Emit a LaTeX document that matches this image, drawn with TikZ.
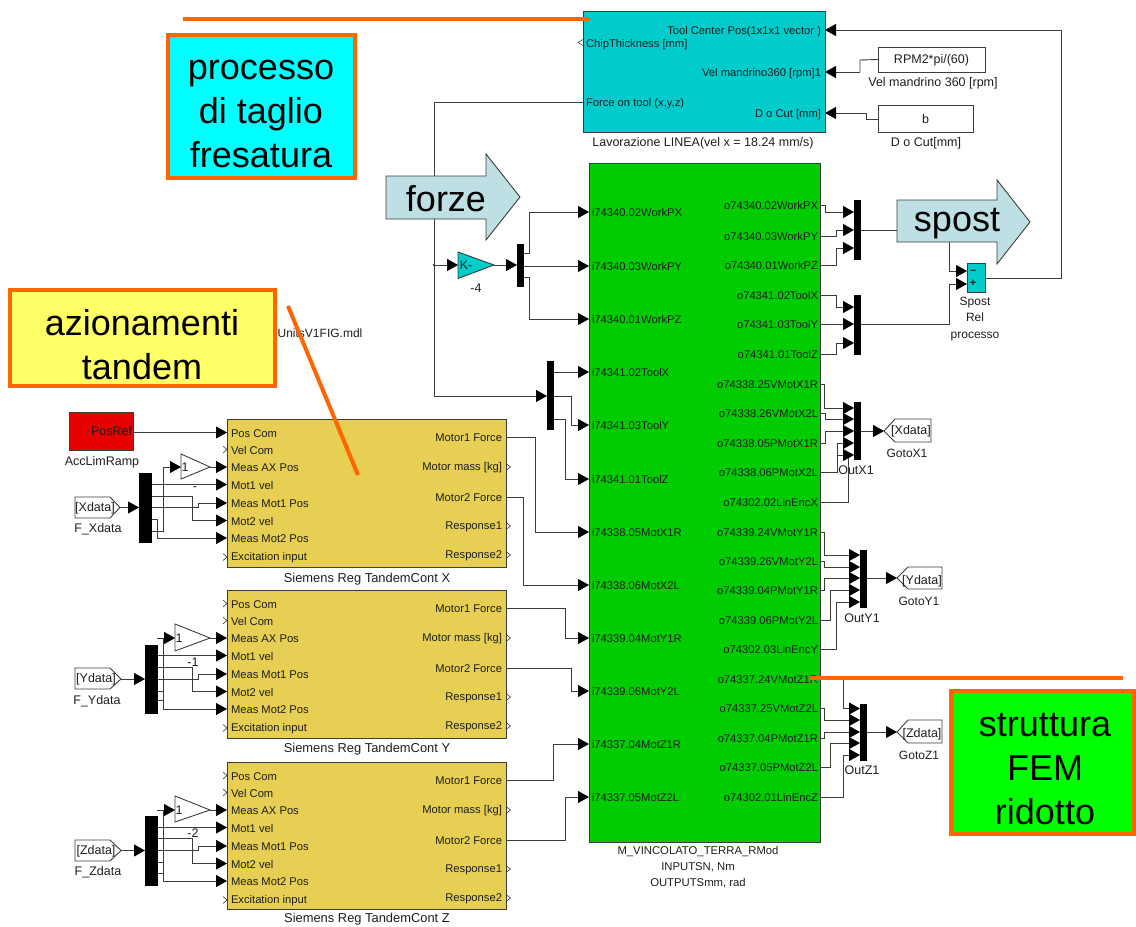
\documentclass[tikz,border=0pt]{standalone}
\usepackage{fontspec}
\setmainfont{Liberation Sans}
\usetikzlibrary{arrows.meta}
\definecolor{ink}{HTML}{1E1E1E}
\definecolor{edge}{HTML}{3C3C3C}
\definecolor{cutcol}{HTML}{00CCCC}
\definecolor{femcol}{HTML}{00CC00}
\definecolor{regcol}{HTML}{E6CF52}
\definecolor{arrowcol}{HTML}{BEDFE3}
\definecolor{orangeline}{HTML}{FF6600}
\definecolor{notecyan}{HTML}{00FFFF}
\definecolor{noteyellow}{HTML}{FFFF66}
\definecolor{notegreen}{HTML}{00FF00}
\definecolor{rampred}{HTML}{E60000}
\tikzset{
  x=1pt,y=-1pt,
  txt/.style={font=\fontsize{11.2}{13}\selectfont,text=ink,inner sep=0pt,outer sep=0pt},
  lab/.style={font=\fontsize{12.5}{15}\selectfont,text=ink,inner sep=0pt,outer sep=0pt},
  gotolab/.style={font=\fontsize{12}{15}\selectfont,text=ink,inner sep=0pt,outer sep=0pt},
  tl/.style={txt,anchor=west,yshift=-.7pt},
  tr/.style={txt,anchor=east,yshift=-.7pt},
  big/.style={font=\fontsize{36}{44}\selectfont,text=black,inner sep=0pt,align=center},
  box/.style={draw=edge,line width=.9pt,inner sep=0pt,outer sep=0pt,anchor=north west},
  bar/.style={fill=black,draw=none,inner sep=0pt,outer sep=0pt,anchor=north west,minimum width=7pt},
  wire/.style={draw=edge,line width=.9pt},
  sig/.style={wire,-{Triangle[length=11pt,width=12pt,color=black]}},
  tag/.style={draw=edge,line width=.9pt,fill=white},
  port/.style={draw=edge,line width=.6pt},
  note/.style={draw=orangeline,line width=4.5pt,anchor=north west,inner sep=0pt,outer sep=0pt},
  ray/.style={draw=orangeline,line width=4pt},
  bigarrow/.style={draw=edge,line width=.9pt,fill=arrowcol},
}
\begin{document}
\begin{tikzpicture}
\useasboundingbox (0,0) rectangle (1136,927);

% --- main blocks ---
\node[box,fill=cutcol,minimum width=242pt,minimum height=121pt] (cut) at (583,11) {};
\node[box,fill=femcol,minimum width=231pt,minimum height=679pt] (fem) at (589,163) {};
\node[box,fill=white,minimum width=107pt,minimum height=25pt] (rpm) at (878,47) {};
\node[lab] at (931.5,60) (rpmt) {RPM2*pi/(60)};
\node[box,fill=white,minimum width=95pt,minimum height=27pt] (bbox) at (878,105) {};
\node[lab] at (925.5,119) (bt) {b};
\node[lab] (rpml) at (933,83) {Vel mandrino 360 [rpm]};
\node[lab] (bl) at (926,143) {D o Cut[mm]};
\node[tr] (c1) at (821,31) {Tool Center Pos(1x1x1 vector )};
\node[tl] (c2) at (586,44) {ChipThickness [mm]};
\node[tr] (c3) at (821,73) {Vel mandrino360 [rpm]1};
\node[tl] (c4) at (586,103) {Force on tool (x,y,z)};
\node[tr] (c5) at (821,114) {D o Cut [mm]};
\node[lab] (cutl) at (703,143) {Lavorazione LINEA(vel x = 18.24 mm/s)};
\coordinate (cutTool) at (825,30);
\coordinate (cutVel) at (825,72);
\coordinate (cutDoc) at (825,113);
\coordinate (cutForce) at (583,102);
\draw[port] (583,39.5) -- (578,42.5) -- (583,45.5);

% --- FEM labels and ports ---
\foreach \pn/\py/\lbl in {1/212/i74340.02WorkPX,2/266/i74340.03WorkPY,3/319/i74340.01WorkPZ,4/372/i74341.02ToolX,5/425/i74341.03ToolY,6/479/i74341.01ToolZ,7/532/i74338.05MotX1R,8/585/i74338.06MotX2L,9/638/i74339.04MotY1R,10/691/i74339.06MotY2L,11/744/i74337.04MotZ1R,12/797/i74337.05MotZ2L}{
  \node[tl] (gi\pn) at (592,\py) {\lbl};
  \coordinate (gin\pn) at (589,\py);
}
\foreach \pn/\py/\lbl in {1/205/o74340.02WorkPX,2/236/o74340.03WorkPY,3/265/o74340.01WorkPZ,4/295/o74341.02ToolX,5/324/o74341.03ToolY,6/354/o74341.01ToolZ,7/384/o74338.25VMotX1R,8/413/o74338.26VMotX2L,9/443/o74338.05PMotX1R,10/472/o74338.06PMotX2L,11/502/o74302.02LinEncX,12/532/o74339.24VMotY1R,13/561/o74339.26VMotY2L,14/590/o74339.04PMotY1R,15/620/o74339.06PMotY2L,16/649/o74302.03LinEncY,17/679/o74337.24VMotZ1R,18/708/o74337.25VMotZ2L,19/738/o74337.04PMotZ1R,20/767/o74337.05PMotZ2L,21/797/o74302.01LinEncZ}{
  \node[tr] (go\pn) at (818,\py) {\lbl};
  \coordinate (gout\pn) at (820,\py);
}
\node[txt,align=center,font=\fontsize{11.3}{16}\selectfont] (feml) at (698,867) {M\_VINCOLATO\_TERRA\_RMod\\INPUTSN, Nm\\OUTPUTSmm, rad};

% --- tandem control blocks ---
\foreach \nm/\tp/\ty/\bh in {X/419/579/148,Y/590/749/148,Z/762/919/147}{
  \node[box,fill=regcol,minimum width=279pt,minimum height=\bh pt] (\nm-block) at (227,\tp) {};
  \node[lab,font=\fontsize{12.9}{15}\selectfont] (\nm-title) at (367,\ty) {Siemens Reg TandemCont \nm};
  \foreach \pn/\py/\lbl in {1/13.5/Pos Com,2/30.5/Vel Com,3/48/Meas AX Pos,4/65.5/Mot1 vel,5/84/Meas Mot1 Pos,6/101.5/Mot2 vel,7/119/Meas Mot2 Pos,8/138/Excitation input}{
    \node[tl] (\nm-l\pn) at (231,\tp+\py) {\lbl};
    \coordinate (\nm-in\pn) at (227,\tp+\py);
  }
  \foreach \pn/\py/\lbl in {1/18/Motor1 Force,2/48/Motor mass [kg],3/78/Motor2 Force,4/107/Response1,5/136/Response2}{
    \node[tr] (\nm-r\pn) at (502,\tp+\py) {\lbl};
    \coordinate (\nm-out\pn) at (506,\tp+\py);
  }
  \foreach \pn in {2,4,5}{
    \draw[port] ([shift={(0,-3.5)}]\nm-out\pn) -- ([shift={(4.5,0)}]\nm-out\pn) -- ([shift={(0,3.5)}]\nm-out\pn);
  }
  \foreach \pn in {2,8}{
    \draw[port] ([shift={(-4,-3.5)}]\nm-in\pn) -- (\nm-in\pn) -- ([shift={(-4,3.5)}]\nm-in\pn);
  }
}
\foreach \nm in {Y,Z}{
  \draw[port] ([shift={(-4,-3.5)}]\nm-in1) -- (\nm-in1) -- ([shift={(-4,3.5)}]\nm-in1);
}

% --- source blocks ---
\node[box,fill=rampred,minimum width=64pt,minimum height=38pt] (ramp) at (69,412) {};
\node[anchor=east,lab] (rampt) at (132,431.5) {PosRef};
\coordinate (rampout) at (133,432.5);
\node[lab] (rampl) at (102,462) {AccLimRamp};

\draw[wire] (cutForce) -| (434,396) coordinate (fdown);
\fill[edge] (434,265) circle (1.3pt);

% --- buses ---
\node[bar,minimum height=60pt] (mA) at (854,200) {};
\node[bar,minimum height=60pt] (mB) at (854,295) {};
\node[bar,minimum height=58pt] (mX) at (854,402) {};
\node[bar,minimum height=58pt] (mY) at (860,550) {};
\node[bar,minimum height=57pt] (mZ) at (860,704) {};
\node[bar,minimum height=43pt] (mK) at (517,244) {};
\node[bar,minimum height=69pt] (mT) at (547,361) {};
\node[bar,minimum width=13pt,minimum height=70pt] (dX) at (139,473) {};
\node[bar,minimum width=13pt,minimum height=69pt] (dY) at (145,645) {};
\node[bar,minimum width=13pt,minimum height=70pt] (dZ) at (145,816) {};
\foreach \pn/\py in {1/212,2/230,3/248}{\coordinate (mAi\pn) at (854,\py);}
\foreach \pn/\py in {1/307,2/324,3/343}{\coordinate (mBi\pn) at (854,\py);}
\foreach \pn/\py in {1/408,2/419,3/431,4/443,5/455}{\coordinate (mXi\pn) at (854,\py);}
\foreach \pn/\py in {1/555,2/567,3/578,4/590,5/602}{\coordinate (mYi\pn) at (860,\py);}
\foreach \pn/\py in {1/708.5,2/720,3/732,4/743,5/755}{\coordinate (mZi\pn) at (860,\py);}

% --- gains ---
\draw[draw=edge,line width=.9pt,fill=cutcol] (458,252) -- (494,265) -- (458,278.5) -- cycle;
\coordinate (kin) at (458,265); \coordinate (kout) at (494,265);
\node[lab] (kt) at (466,265) {K-};
\node[lab] (kl) at (476,288) {-4};
\draw[draw=edge,line width=.9pt,fill=white] (181,454) -- (210,467) -- (181,479) -- cycle;
\draw[draw=edge,line width=.9pt,fill=white] (175,624) -- (210,638) -- (175,651) -- cycle;
\draw[draw=edge,line width=.9pt,fill=white] (175,796) -- (210,810) -- (175,822) -- cycle;
\node[lab] (gx) at (185,467) {1};
\node[lab] (gy) at (179,638) {1};
\node[lab] (gz) at (179,810) {1};
\coordinate (gxi) at (181,467); \coordinate (gxo) at (210,467);
\coordinate (gyi) at (175,638); \coordinate (gyo) at (210,638);
\coordinate (gzi) at (175,810); \coordinate (gzo) at (210,810);
\node[lab] (sx) at (195,489) {-};
\node[lab] (sy) at (193,662) {-1};
\node[lab] (sz) at (193,833) {-2};

% --- tags ---
\draw[tag] (75,497) -- (110,497) -- (120,507.5) -- (110,518) -- (75,518) -- cycle;
\draw[tag] (75,668) -- (110,668) -- (121,679) -- (110,689) -- (75,689) -- cycle;
\draw[tag] (75,840) -- (110,840) -- (121,850.5) -- (110,861) -- (75,861) -- cycle;
\node[lab] (fx) at (95,508) {[Xdata]};
\node[lab] (fy) at (96,679) {[Ydata]};
\node[lab] (fz) at (96,851) {[Zdata]};
\node[lab] (fxl) at (98,529) {F\_Xdata};
\node[lab] (fyl) at (97,701) {F\_Ydata};
\node[lab] (fzl) at (98,872) {F\_Zdata};
\coordinate (fxo) at (120,507.5); \coordinate (fyo) at (121,679); \coordinate (fzo) at (121,850.5);
\draw[tag] (884,431) -- (895,419) -- (931,419) -- (931,442) -- (895,442) -- cycle;
\draw[tag] (897,578) -- (908,567) -- (942,567) -- (942,589) -- (908,589) -- cycle;
\draw[tag] (897,732) -- (908,720) -- (942,720) -- (942,743) -- (908,743) -- cycle;
\node[lab] (tx) at (911,431) {[Xdata]};
\node[lab] (ty) at (922,581) {[Ydata]};
\node[lab] (tz) at (922,734) {[Zdata]};
\node[gotolab] (txl) at (907,453) {GotoX1};
\node[gotolab] (tyl) at (919,601) {GotoY1};
\node[gotolab] (tzl) at (919,755) {GotoZ1};
\coordinate (txi) at (884,431); \coordinate (tyi) at (897,578); \coordinate (tzi) at (897,732);
\node[lab] (ox) at (856,470) {OutX1};
\node[lab] (oy) at (862,618) {OutY1};
\node[lab] (oz) at (862,770) {OutZ1};

% --- sum ---
\node[box,fill=cutcol,minimum width=18pt,minimum height=29pt] (sum) at (967,263) {};
\node[txt,font=\fontsize{11}{11}\selectfont\bfseries] (sm) at (973,272) {−};
\node[txt,font=\fontsize{11}{11}\selectfont\bfseries] (sp) at (973,283) {+};
\node[lab,align=center,font=\fontsize{12}{16.5}\selectfont] (suml) at (975,319) {Spost\\Rel\\processo};
\coordinate (sumA) at (967,271); \coordinate (sumB) at (967,284); \coordinate (sumO) at (985,278);

% --- wires: top ---
\draw[sig] (sumO) -- (1061,278) -- (1061,30) -- (cutTool);
\draw[wire] (rpm.west) -- (860,60) -- (860,72);
\draw[sig] (860,72) -- (cutVel);
\draw[wire] (878,119) -- (866.5,119) -- (866.5,113);
\draw[sig] (866.5,113) -- (cutDoc);

% --- wires: FEM outputs to buses ---
\draw[sig] (gout1) -- ++(5,0) |- (mAi1);
\draw[sig] (gout2) -- ++(16,0) |- (mAi2);
\draw[sig] (gout3) -- ++(16,0) |- (mAi3);
\draw[sig] (gout4) -- ++(16,0) |- (mBi1);
\draw[sig] (gout5) -- (mBi2);
\draw[sig] (gout6) -- ++(16,0) |- (mBi3);
\draw[sig] (gout7) -- ++(4,0) |- (mXi1);
\draw[sig] (gout8) -- ++(5,0) |- (mXi2);
\draw[sig] (gout9) -- ++(5,0) |- (mXi3);
\draw[sig] (gout10) -- ++(17,0) |- (mXi4);
\draw[wire] (gout11) -- ++(28,0) -- (848,455);
\draw[sig] (837,455) -- (mXi5);
\draw[sig] (gout12) -- ++(4,0) |- (mYi1);
\draw[sig] (gout13) -- ++(4,0) |- (mYi2);
\draw[sig] (gout14) -- ++(4,0) |- (mYi3);
\draw[sig] (gout15) -- ++(10,0) |- (mYi4);
\draw[sig] (gout16) -- ++(16,0) |- (mYi5);
\draw[sig] (gout17) -- ++(23,0) |- (mZi1);
\draw[sig] (gout18) -- ++(4,0) |- (mZi2);
\draw[sig] (gout19) -- ++(4,0) |- (mZi3);
\draw[sig] (gout20) -- ++(10,0) |- (mZi4);
\draw[sig] (gout21) -- ++(23,0) |- (mZi5);
\draw[sig] (861,324) -- (949,324) -- (949,284) -- (sumB);
\draw[wire] (861,230) -- (897,230);
\draw[sig] (949,242) -- (949,271) -- (sumA);
\draw[sig] (861,431) -- (txi);
\draw[sig] (867,578) -- (tyi);
\draw[sig] (867,732) -- (tzi);

% --- wires: force path ---
\draw[sig] (434,265) -- (kin);
\draw[sig] (kout) -- (517,265);
\draw[sig] (524,253) -- (529,253) |- (gin1);
\draw[sig] (524,266) -- (gin2);
\draw[sig] (524,277) -- (529,277) |- (gin3);
\draw[sig] (fdown) -- (547,396);
\draw[sig] (554,372) -- (gin4);
\draw[sig] (554,396) -- (571,396) |- (gin5);
\draw[sig] (554,419) -- (565,419) |- (gin6);

% --- wires: tandem blocks to FEM ---
\draw[sig] (X-out1) -- (535,437) |- (gin7);
\draw[sig] (X-out3) -- (523,497) |- (gin8);
\draw[sig] (Y-out1) -- (565,608) |- (gin9);
\draw[sig] (Y-out3) -- (571,668) |- (gin10);
\draw[sig] (Z-out1) -- (553,780) |- (gin11);
\draw[sig] (Z-out3) -- (565,840) |- (gin12);

% --- wires: left side ---
\draw[sig] (rampout) -- (X-in1);
\draw[sig] (fxo) -- (139,507.5);
\draw[sig] (fyo) -- (145,679);
\draw[sig] (fzo) -- (145,850.5);
\draw[sig] (gxo) -- (X-in3);
\draw[sig] (gyo) -- (Y-in3);
\draw[sig] (gzo) -- (Z-in3);
\draw[sig] (152,484.5) -- (X-in4);
\draw[sig] (152,496) -- (192,496) |- (X-in6);
\draw[sig] (152,507.5) -- (198,507.5) |- (X-in5);
\draw[sig] (152,519) -- (157,519) |- (X-in7);
\draw[sig] (152,531) -- (163.5,531) |- (gxi);
\draw[sig] (158,655.5) -- (Y-in4);
\draw[sig] (158,667) -- (192,667) |- (Y-in6);
\draw[sig] (158,679) -- (198,679) |- (Y-in5);
\draw[wire] (158,691) -- (163.5,691);
\draw[sig] (163.5,691) |- (Y-in7);
\draw[wire] (158,700) -- (163.5,700) -- (163.5,638);
\draw[sig] (157,638) -- (gyi);
\draw[sig] (158,827.5) -- (Z-in4);
\draw[sig] (158,838) -- (192,838) |- (Z-in6);
\draw[sig] (158,850.5) -- (198,850.5) |- (Z-in5);
\draw[wire] (158,862) -- (163.5,862);
\draw[sig] (163.5,862) |- (Z-in7);
\draw[wire] (158,873) -- (163.5,873) -- (163.5,810);
\draw[sig] (157,810) -- (gzi);

% --- big callout arrows ---
\draw[bigarrow] (386,176) -- (486,176) -- (486,154) -- (520,197) -- (486,240) -- (486,219) -- (386,219) -- cycle;
\node[big] (forze) at (446,199) {forze};
\draw[bigarrow] (897,200) -- (997,200) -- (997,180) -- (1030,222) -- (997,264) -- (997,242) -- (897,242) -- cycle;
\node[big] (spost) at (957,224) {spost};

% --- annotation boxes ---
\node[note,fill=notecyan,minimum width=187pt,minimum height=143pt] (n1) at (168,35) {};
\node[big] (n1t) at (261,114) {processo\\di taglio\\fresatura};
\node[note,fill=noteyellow,minimum width=265pt,minimum height=96pt] (n2) at (10,290) {};
\node[big] (n2t) at (142,345) {azionamenti\\tandem};
\node[note,fill=notegreen,minimum width=183pt,minimum height=143pt] (n3) at (951.5,691) {};
\node[big] (n3t) at (1045,769) {struttura\\FEM\\ridotto};
\node[lab,font=\fontsize{12}{14}\selectfont] (mdl) at (320,333) {UnitsV1FIG.mdl};
\coordinate (r1a) at (183,19); \coordinate (r1b) at (590,19);
\coordinate (r2a) at (288,306); \coordinate (r2b) at (358,475);
\coordinate (r3a) at (810,678); \coordinate (r3b) at (1123,678);
\draw[ray] (r1a) -- (r1b);
\draw[ray] (r2a) -- (r2b);
\draw[ray] (r3a) -- (r3b);
\end{tikzpicture}
\end{document}
